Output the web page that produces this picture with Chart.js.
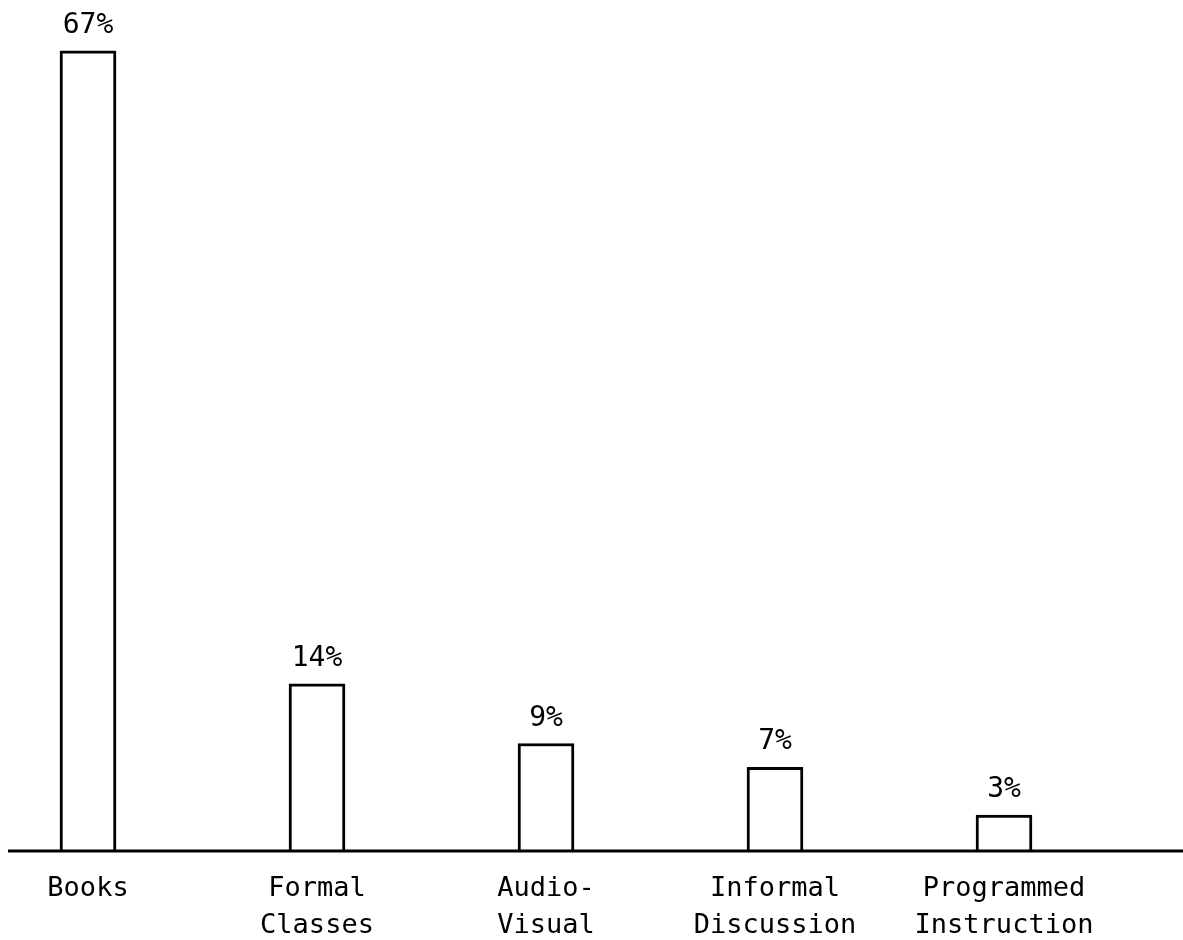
<!DOCTYPE html>
<html>
<head>
<meta charset="utf-8">
<script src="https://cdn.jsdelivr.net/npm/chart.js@4"></script>
<style>
  html, body { margin: 0; padding: 0; background: #fff; }
  #wrap { width: 1183px; height: 940px; position: relative; }
</style>
</head>
<body>
<div id="wrap"><canvas id="c"></canvas></div>
<script>
// Sources of learning, share of respondents (%)
const categories = [
  'Books',
  ['Formal', 'Classes'],
  ['Audio-', 'Visual'],
  ['Informal', 'Discussion'],
  ['Programmed', 'Instruction']
];
const shares = [67, 14, 9, 7, 3];
const valueLabels = ['67%', '14%', '9%', '7%', '3%'];

const FONT = '"DejaVu Sans Mono", "Liberation Mono", monospace';

// Prints the percentage above each bar
const valueLabelPlugin = {
  id: 'valueLabels',
  afterDatasetsDraw(chart) {
    const ctx = chart.ctx;
    const meta = chart.getDatasetMeta(0);
    ctx.save();
    ctx.font = '28px ' + FONT;
    ctx.fillStyle = '#000';
    ctx.textAlign = 'center';
    ctx.textBaseline = 'alphabetic';
    meta.data.forEach((bar, i) => {
      ctx.fillText(valueLabels[i], bar.x, bar.y - 18);
    });
    ctx.restore();
  }
};

// Long baseline running across the full width
const baselinePlugin = {
  id: 'baseline',
  afterDatasetsDraw(chart) {
    const ctx = chart.ctx;
    const y = chart.scales.x.top;
    ctx.save();
    ctx.strokeStyle = '#000';
    ctx.lineWidth = 3;
    ctx.beginPath();
    ctx.moveTo(8, y);
    ctx.lineTo(chart.width, y);
    ctx.stroke();
    ctx.restore();
  }
};

new Chart(document.getElementById('c'), {
  type: 'bar',
  data: {
    labels: categories,
    datasets: [{
      data: shares,
      backgroundColor: '#fff',
      borderColor: '#000',
      borderWidth: 3,
      barThickness: 56,
      clip: false
    }]
  },
  options: {
    responsive: true,
    maintainAspectRatio: false,
    animation: false,
    layout: { padding: { left: 88, right: 179, top: 15, bottom: 0 } },
    plugins: {
      legend: { display: false },
      tooltip: { enabled: false }
    },
    scales: {
      x: {
        offset: false,
        grid: { display: false, drawTicks: false },
        border: { display: false },
        ticks: {
          color: '#000',
          padding: 19,
          maxRotation: 0,
          autoSkip: false,
          font: { family: FONT, size: 27, lineHeight: 1.37 }
        },
        afterFit(scale) { scale.height = 89; }
      },
      y: {
        display: false,
        min: 0,
        max: 70
      }
    }
  },
  plugins: [valueLabelPlugin, baselinePlugin]
});
</script>
</body>
</html>
